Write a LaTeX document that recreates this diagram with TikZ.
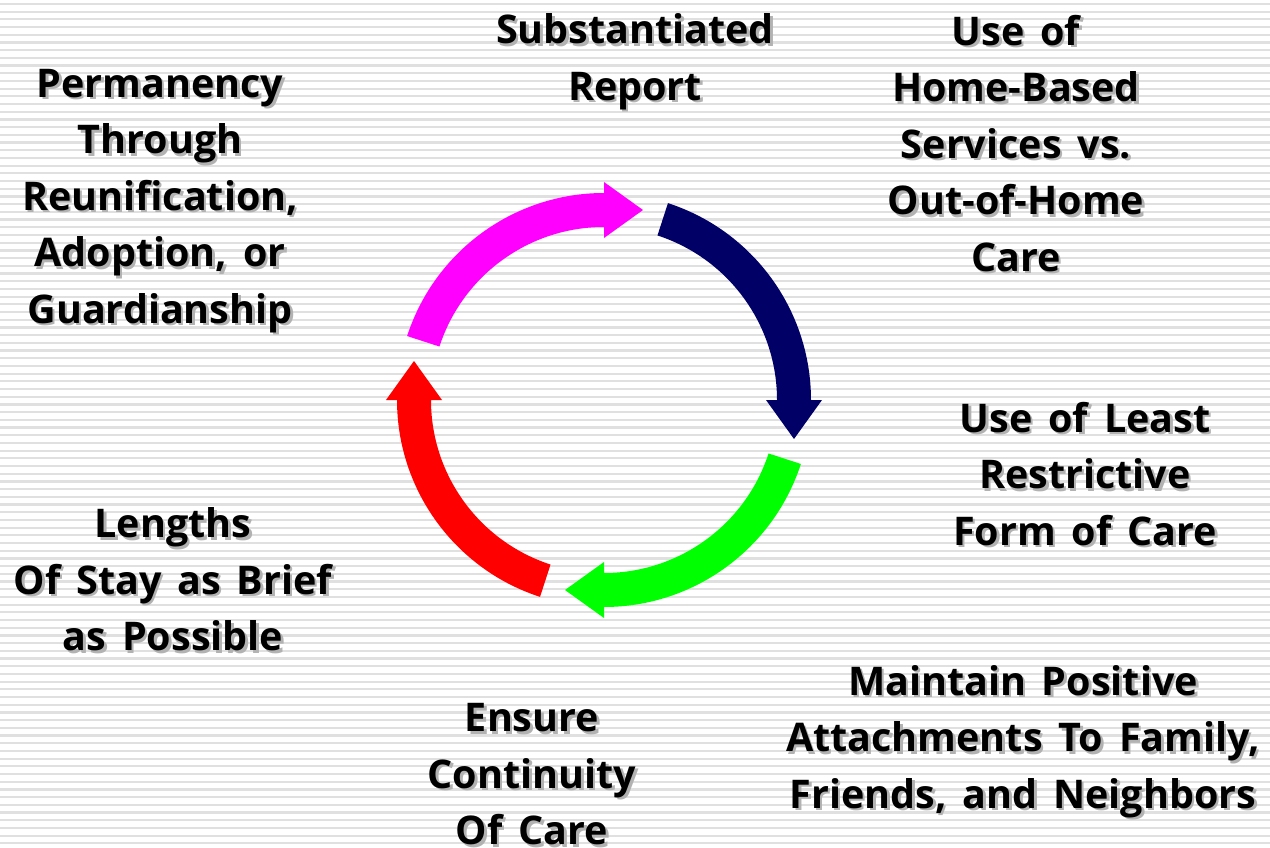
\documentclass[tikz,border=0pt]{standalone}
\usepackage{fontspec}
\newfontfamily\lblfont{Open Sans}[WordSpace=1.55]
\usetikzlibrary{calc}

% shaft geometry of the cycle arrows (pt)
\def\Rm{190}
\def\Ro{207}
\def\Ri{173}

% one curved block arrow running clockwise from #2 to #3 degrees
\newcommand\cyclearrow[3]{%
  \fill[#1] ($(c)+(#2:\Ro)$)
    arc[start angle=#2, end angle=#3, radius=\Ro pt]
    -- ($(c)+(#3:\Ro+11)$)
    -- ($(c)+(#3:\Rm)+(#3-90:39)$)
    -- ($(c)+(#3:\Ri-11)$)
    -- ($(c)+(#3:\Ri)$)
    arc[start angle=#3, end angle=#2, radius=\Ri pt]
    -- cycle;}

% label with a soft drop shadow
\newcommand\shadowlabel[4]{%
  \node[lblshadow] (#1-shadow) at (#2+2.5,-#3-2.5) {#4};
  \node[lbl] (#1) at (#2,-#3) {#4};}

\definecolor{navyarrow}{HTML}{000066}
\definecolor{pinkarrow}{HTML}{FF00FF}
\definecolor{greenarrow}{HTML}{00FF00}
\definecolor{redarrow}{HTML}{FF0000}

\begin{document}
\begin{tikzpicture}[x=1pt,y=1pt,
  stripe/.style={draw=black!12, line width=2.2pt},
  lbl/.style={align=center, inner sep=0pt, text=black,
    font=\lblfont\bfseries\fontsize{39.5}{56.5}\selectfont},
  lblshadow/.style={lbl, text=black!30}]

\useasboundingbox (0,0) rectangle (1270,-848);
\clip (0,0) rectangle (1270,-848);
\fill[white] (0,0) rectangle (1270,-848);

% ruled background
\foreach \k in {0,...,110}
  \draw[stripe] (0,-4-7.7*\k) -- (1270,-4-7.7*\k);

\coordinate (c) at (604,-400);

\cyclearrow{pinkarrow}{162}{90}
\cyclearrow{navyarrow}{72}{0}
\cyclearrow{greenarrow}{-18}{-90}
\cyclearrow{redarrow}{252}{180}

\shadowlabel{report}{635}{61.5}{Substantiated\\Report}
\shadowlabel{homebased}{1016}{143.5}{Use of\\Home-Based\\Services vs.\\Out-of-Home\\Care}
\shadowlabel{leastrestrictive}{1085}{474}{Use of Least\\Restrictive\\Form of Care}
\shadowlabel{attachments}{1023}{741.5}{Maintain Positive\\Attachments To Family,\\Friends, and Neighbors}
\shadowlabel{continuity}{532}{774.5}{Ensure\\Continuity\\Of Care}
\shadowlabel{lengths}{173}{579.5}{Lengths\\Of Stay as Brief\\as Possible}
\shadowlabel{permanency}{160}{201}{Permanency\\Through\\Reunification,\\Adoption, or\\Guardianship}
\end{tikzpicture}
\end{document}
